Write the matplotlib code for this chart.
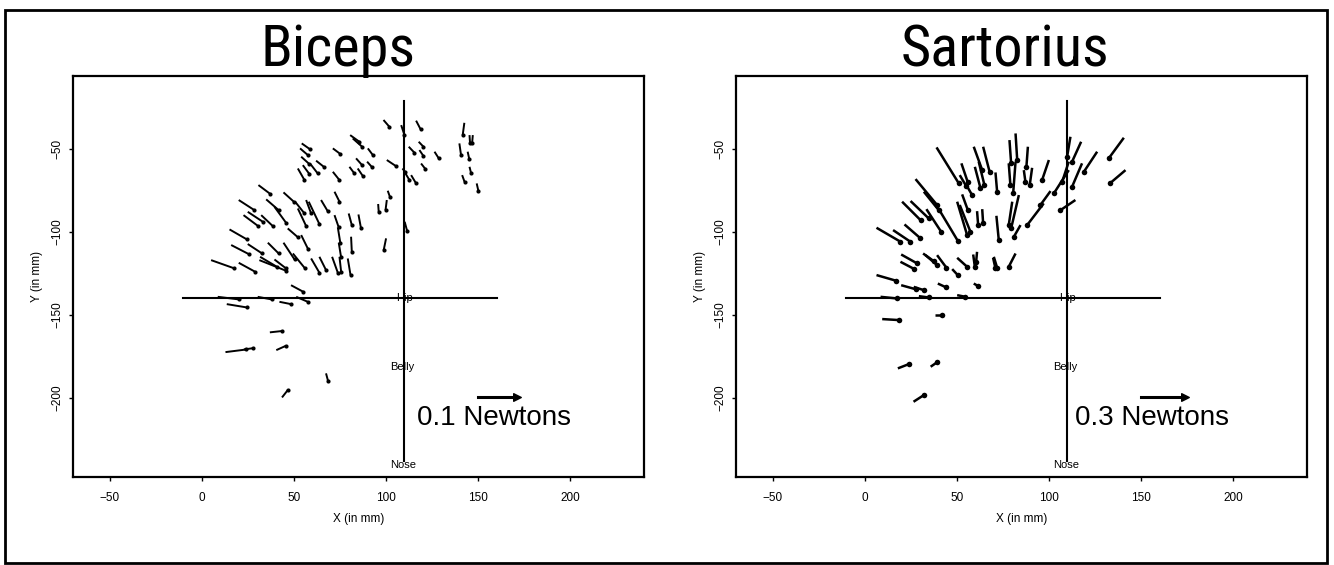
import matplotlib
matplotlib.use("Agg")
import matplotlib.pyplot as plt
from matplotlib.patches import Rectangle

plt.rcParams['font.family'] = ['Liberation Sans', 'DejaVu Sans']

# force vectors, position in mm and force drawn in mm (already scaled)
biceps_x = [98.6, 116.3, 108.2, 142.5, 145.3, 147.1, 139.8, 144.3, 145.3, 141.3, 149.2,
            112.3, 117.7, 118.1, 126.3, 119.0, 100.4, 108.9, 110.0, 113.6,
            80.5, 81.9, 90.1, 71.1, 83.7, 89.7, 80.1, 84.6, 71.1,
            54.2, 53.3, 53.9, 62.0, 52.1, 54.8, 58.7,
            30.7, 20.0, 34.9, 44.3, 22.6, 24.9, 32.2, 39.4, 50.6, 52.1, 56.6, 58.0, 64.7,
            72.0, 72.0, 73.8, 74.3, 79.7, 85.0, 81.0, 95.7, 100.4, 100.9, 110.1, 100.0,
            15.0, 15.9, 24.9, 35.8, 44.3, 46.6, 53.9, 5.0, 20.0, 31.6, 31.2, 39.4, 49.4,
            59.3, 63.8, 70.7, 74.7, 79.2,
            8.6, 13.5, 30.3, 42.1, 48.4, 51.2,
            12.8, 22.8, 36.9, 40.4, 67.4, 43.5]
biceps_y = [-32.5, -32.9, -35.6, -34.2, -41.6, -41.6, -46.6, -51.6, -60.7, -65.7, -70.7,
            -48.6, -45.6, -50.6, -51.6, -58.7, -56.6, -61.7, -63.7, -65.7,
            -41.6, -43.6, -49.6, -49.6, -55.6, -57.6, -60.7, -61.7, -63.7,
            -46.6, -49.6, -54.6, -57.0, -61.7, -59.7, -58.7,
            -71.7, -80.7, -80.3, -76.1, -89.8, -87.8, -89.8, -84.8, -81.7, -85.8, -80.7, -81.7, -80.7,
            -75.7, -89.8, -97.2, -106.4, -88.8, -89.4, -102.8, -83.1, -80.7, -75.1, -93.8, -103.8,
            -98.4, -107.8, -107.2, -106.4, -106.4, -97.8, -101.8, -116.9, -118.5, -114.9, -116.9, -116.5, -112.9,
            -115.9, -114.9, -114.9, -114.9, -115.9,
            -139.0, -143.4, -139.0, -142.0, -132.0, -139.0,
            -172.3, -170.7, -160.4, -171.1, -185.1, -199.6]
biceps_u = [3.2, 2.4, 1.8, -0.9, 0.3, -0.4, 0.9, 0.9, 0.9, 1.3, 0.9,
            3.1, 2.6, 2.2, 2.3, 2.4, 5.0, 1.4, 2.7, 2.7,
            5.0, 5.1, 2.7, 4.1, 3.3, 2.5, 2.7, 2.7, 3.6,
            4.6, 4.2, 4.5, 4.2, 3.6, 3.6, 4.2,
            6.5, 8.5, 6.8, 5.6, 7.7, 8.2, 6.3, 6.3, 5.1, 4.5, 2.7, 5.8, 3.6,
            2.7, 2.3, 1.4, 1.3, 1.7, 1.4, 0.4, 0.3, -0.7, 1.3, 1.3, -1.3,
            9.4, 9.6, 7.8, 5.9, 6.0, 5.6, 3.6, 12.7, 8.9, 9.1, 14.5, 6.3, 6.6,
            4.5, 3.6, 3.1, 0.9, 1.5,
            11.8, 10.9, 7.8, 6.3, 6.7, 6.3,
            11.4, 5.2, 6.6, 5.2, 1.1, 3.1]
biceps_v = [-4.1, -5.1, -6.0, -7.4, -5.0, -5.0, -7.0, -4.6, -4.0, -4.0, -4.4,
            -3.6, -3.0, -3.6, -4.0, -3.4, -3.7, -2.0, -5.0, -5.0,
            -4.0, -5.0, -4.0, -3.4, -4.1, -3.1, -4.0, -4.4, -5.0,
            -3.6, -4.0, -4.5, -3.7, -7.0, -5.4, -6.0,
            -5.4, -6.1, -6.5, -5.6, -6.4, -6.0, -6.6, -9.6, -7.1, -10.6, -8.1, -13.5, -6.7,
            -6.0, -7.4, -9.6, -8.9, -7.0, -8.4, -9.1, -4.7, -6.1, -4.0, -5.4, -7.1,
            -6.0, -5.5, -5.7, -6.5, -10.1, -5.4, -8.1, -5.0, -5.4, -6.0, -6.4, -5.4, -9.0,
            -8.6, -8.0, -9.6, -9.0, -10.0,
            -1.6, -2.0, -1.6, -1.4, -4.0, -3.0,
            1.6, 0.8, 0.8, 2.6, -4.6, 4.4]

sartorius_x = [38.9, 52.4, 51.5, 54.9, 59.1, 64.2, 59.7, 61.8, 70.9,
               27.5, 32.0, 20.2, 24.8, 33.4, 41.0, 52.8, 50.1, 51.5, 60.9, 63.7,
               6.3, 15.3, 21.5, 19.7, 19.3, 31.6, 32.9, 39.2,
               6.3, 19.7, 26.5, 39.6, 47.4, 50.1, 58.8, 60.9, 69.6, 59.1,
               8.5, 29.3, 50.1, 9.4, 37.8, 17.9, 35.7, 26.4,
               140.6, 141.5, 78.5, 81.8, 78.1, 81.8, 88.5, 90.8, 86.3, 99.9,
               111.6, 117.4, 110.7, 117.9, 126.1, 110.7, 100.8, 97.1, 114.3,
               83.6, 80.0, 84.5, 71.4, 81.8, 70.0]
sartorius_y = [-49.0, -58.6, -65.7, -71.3, -48.6, -48.6, -60.7, -57.6, -64.1,
               -68.1, -75.7, -81.7, -81.3, -86.2, -87.8, -77.3, -81.7, -83.7, -87.4, -86.2,
               -97.4, -98.8, -95.4, -113.5, -117.9, -112.9, -113.9, -113.9,
               -125.9, -132.0, -133.0, -131.0, -122.3, -115.5, -113.5, -111.9, -115.5, -131.0,
               -139.0, -138.6, -138.0, -152.4, -150.0, -182.1, -181.1, -202.2,
               -43.2, -62.7, -44.6, -40.6, -58.6, -57.6, -48.6, -61.3, -62.7, -56.6,
               -42.6, -45.6, -57.6, -58.6, -51.6, -62.7, -75.3, -82.7, -80.7,
               -77.7, -81.7, -95.8, -90.2, -112.9, -114.9]
sartorius_u = [12.1, 3.5, 3.4, 3.3, 4.6, 3.6, 3.0, 3.1, 0.9,
               11.7, 8.1, 10.0, 9.9, 8.0, 9.4, 3.1, 5.4, 5.8, 0.6, 0.5,
               13.0, 9.4, 8.3, 8.7, 7.6, 5.8, 6.3, 5.1,
               10.6, 7.8, 5.5, 4.5, 3.0, 5.4, 0.9, -0.5, 1.3, 2.2,
               9.0, 5.4, 4.5, 9.0, 4.1, 6.0, 3.4, 5.6,
               -8.2, -8.5, 0.9, 0.9, 0.9, -1.3, -0.8, -1.3, 0.9, -3.7,
               -1.8, -4.9, -3.6, -5.4, -7.2, -8.1, -5.5, -9.0, -8.1,
               -4.2, -1.9, -3.6, 1.3, -3.7, 1.8]
sartorius_v = [-21.7, -11.5, -6.4, -6.4, -14.1, -15.5, -12.6, -14.1, -11.6,
               -15.6, -11.1, -11.1, -10.5, -13.6, -17.4, -9.5, -20.1, -16.1, -8.4, -8.6,
               -8.4, -7.0, -8.0, -5.4, -4.4, -4.6, -6.0, -7.6,
               -3.4, -2.4, -2.0, -2.3, -3.6, -5.4, -7.4, -6.0, -6.4, -1.4,
               -1.0, -0.8, -1.0, -0.6, 0.0, 2.6, 2.6, 4.0,
               -12.4, -8.0, -14.0, -16.0, -13.1, -19.1, -12.0, -10.4, -7.4, -12.1,
               -12.0, -12.0, -12.1, -14.1, -12.1, -14.0, -8.4, -13.1, -6.1,
               -20.1, -14.1, -7.0, -14.6, -8.0, -6.6]

# landmarks (mm)
hip_xy = (110, -140)
belly_xy = (109, -181)
nose_xy = (109, -240)
hip_line_x = [-10, 160]
body_line_y = [-21, -238]

# reference arrows: start x, start y, length in mm, label, label x
biceps_ref = (150, -199.5, 21.3, '0.1 Newtons', 117)
sartorius_ref = (150, -199.5, 24.0, '0.3 Newtons', 114)

xticks = [-50, 0, 50, 100, 150, 200]
yticks = [-50, -100, -150, -200]


def draw_panel(ax, xs, ys, us, vs, ref, lw, dot):
    for x, y, u, v in zip(xs, ys, us, vs):
        ax.plot([x, x + u], [y, y + v], color='black', lw=lw, solid_capstyle='butt')
    ax.scatter([x + u for x, u in zip(xs, us)], [y + v for y, v in zip(ys, vs)],
               s=dot, color='black', zorder=3, linewidths=0)

    ax.plot(hip_line_x, [hip_xy[1]] * 2, color='black', lw=1.5)
    ax.plot([hip_xy[0]] * 2, body_line_y, color='black', lw=1.5)
    ax.text(hip_xy[0], hip_xy[1], 'Hip', ha='center', va='center', fontsize=8)
    ax.text(belly_xy[0], belly_xy[1], 'Belly', ha='center', va='center', fontsize=8)
    ax.text(nose_xy[0], nose_xy[1], 'Nose', ha='center', va='center', fontsize=8)

    rx, ry, rlen, rlab, tx = ref
    ax.plot([rx, rx + rlen], [ry, ry], color='black', lw=2.2)
    ax.scatter([rx + rlen], [ry], s=30, marker='>', color='black', zorder=3)
    ax.text(tx, -216, rlab, fontsize=20, ha='left', va='baseline')

    ax.set_xlim(-70, 240)
    ax.set_ylim(-247.5, -6)
    ax.set_xticks(xticks)
    ax.set_yticks(yticks)
    ax.tick_params(axis='both', direction='out', length=3, width=1, labelsize=8.5)
    ax.tick_params(axis='x', pad=8)
    ax.tick_params(axis='y', pad=4)
    for lab in ax.get_yticklabels():
        lab.set_rotation(90)
        lab.set_va('center')
    for s in ax.spines.values():
        s.set_linewidth(1.6)
    ax.set_xlabel('X (in mm)', fontsize=8.5, labelpad=6)
    ax.set_ylabel('Y (in mm)', fontsize=8.5, labelpad=6)


fig = plt.figure(figsize=(13.34, 5.65), dpi=100)

ax1 = fig.add_axes([0.0547, 0.1558, 0.4280, 0.7097])
ax2 = fig.add_axes([0.5517, 0.1558, 0.4280, 0.7097])

draw_panel(ax1, biceps_x, biceps_y, biceps_u, biceps_v, biceps_ref, 1.4, 9)
draw_panel(ax2, sartorius_x, sartorius_y, sartorius_u, sartorius_v, sartorius_ref, 1.8, 16)

title_font = ['Roboto Condensed', 'Liberation Sans', 'DejaVu Sans']
fig.text(0.2534, 0.883, 'Biceps', fontsize=42, ha='center', va='baseline', family=title_font)
fig.text(0.7534, 0.883, 'Sartorius', fontsize=42, ha='center', va='baseline', family=title_font)

fig.patches.append(Rectangle((0.004, 0.004), 0.991, 0.978, transform=fig.transFigure,
                             fill=False, edgecolor='black', lw=2))

fig.savefig('out.png', dpi=100)
